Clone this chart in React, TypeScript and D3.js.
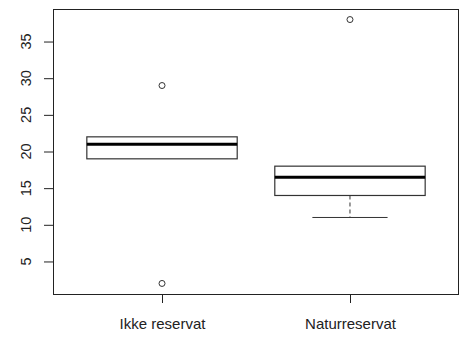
import React, { useRef, useEffect } from "react";
import * as d3 from "d3";

// group labels and five-number summaries
const groups = ["Ikke reservat", "Naturreservat"];
const lowerWhisker = [19, 11];
const q1 = [19, 14];
const medians = [21, 16.5];
const q3 = [22, 18];
const upperWhisker = [22, 18];
const outliers = [[29, 2], [38]];
const yTicks = [5, 10, 15, 20, 25, 30, 35];

export default function App() {
  const svgRef = useRef<SVGSVGElement>(null);

  useEffect(() => {
    if (!svgRef.current) return;
    const svg = d3.select(svgRef.current);
    svg.selectAll("*").remove();

    const left = 53, right = 459, top = 9, bottom = 294;
    const font = "'Liberation Sans', Arial, sans-serif";
    const ink = "#222";

    const x = d3.scaleLinear().domain([0.42, 2.58]).range([left, right]);
    const y = d3.scaleLinear().domain([0.56, 39.44]).range([bottom, top]);

    // y axis
    const yAxis = svg.append("g").attr("transform", `translate(${left},0)`)
      .call(d3.axisLeft(y).tickValues(yTicks).tickSize(9).tickPadding(0).tickFormat(d => `${d}`));
    yAxis.select(".domain").remove();
    yAxis.selectAll("line").attr("stroke", ink);
    yAxis.selectAll("text").remove();
    yTicks.forEach(t => {
      svg.append("text")
        .attr("transform", `translate(${31},${y(t)}) rotate(-90)`)
        .attr("text-anchor", "middle")
        .style("font-family", font)
        .style("font-size", "14.5px")
        .style("fill", ink)
        .text(`${t}`);
    });

    // x axis ticks and labels
    groups.forEach((g, i) => {
      const cx = Math.round(x(i + 1)) + 0.5;
      svg.append("line")
        .attr("x1", cx).attr("x2", cx).attr("y1", bottom).attr("y2", bottom + 9)
        .attr("stroke", ink);
      svg.append("text")
        .attr("x", cx).attr("y", 329)
        .attr("text-anchor", "middle")
        .style("font-family", font)
        .style("font-size", "15px")
        .style("fill", ink)
        .text(g);
    });

    // plot frame
    svg.append("rect")
      .attr("x", left + 0.5).attr("y", top + 0.5)
      .attr("width", right - left - 1).attr("height", bottom - top)
      .attr("fill", "none").attr("stroke", ink);

    // boxes
    const half = 0.4;
    groups.forEach((_, i) => {
      const c = i + 1;
      const stroke = "#333";
      // whiskers (dashed)
      [[q1[i], lowerWhisker[i]], [q3[i], upperWhisker[i]]].forEach(([a, b]) => {
        if (a === b) return;
        svg.append("line")
          .attr("x1", x(c)).attr("x2", x(c))
          .attr("y1", y(a)).attr("y2", y(b))
          .attr("stroke", stroke).attr("stroke-dasharray", "4,3");
        svg.append("line")
          .attr("x1", x(c - half / 2)).attr("x2", x(c + half / 2))
          .attr("y1", y(b)).attr("y2", y(b))
          .attr("stroke", stroke);
      });
      svg.append("rect")
        .attr("x", x(c - half)).attr("y", y(q3[i]))
        .attr("width", x(c + half) - x(c - half))
        .attr("height", y(q1[i]) - y(q3[i]))
        .attr("fill", "white").attr("stroke", stroke).attr("stroke-width", 1.2);
      svg.append("line")
        .attr("x1", x(c - half)).attr("x2", x(c + half))
        .attr("y1", y(medians[i])).attr("y2", y(medians[i]))
        .attr("stroke", "#000").attr("stroke-width", 3);
      outliers[i].forEach(v => {
        svg.append("circle")
          .attr("cx", x(c)).attr("cy", y(v)).attr("r", 3)
          .attr("fill", "none").attr("stroke", stroke);
      });
    });
  }, []);

  return (
    <svg ref={svgRef} width={468} height={341}
      style={{ position: "absolute", left: 0, top: 0, background: "white" }} />
  );
}
